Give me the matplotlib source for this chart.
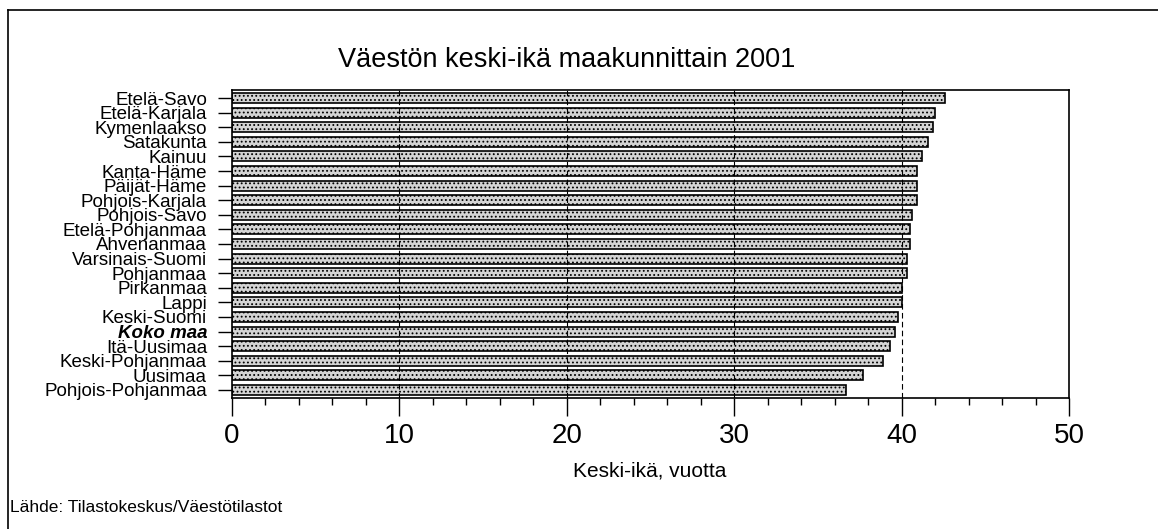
import matplotlib
matplotlib.use("Agg")
import matplotlib.pyplot as plt
from matplotlib.lines import Line2D
from matplotlib.ticker import MultipleLocator

plt.rcParams['font.family'] = ['Liberation Sans', 'DejaVu Sans']
plt.rcParams['hatch.color'] = '#8c8c8c'
plt.rcParams['hatch.linewidth'] = 0.8

maakunnat = ["Etelä-Savo", "Etelä-Karjala", "Kymenlaakso", "Satakunta", "Kainuu",
             "Kanta-Häme", "Päijät-Häme", "Pohjois-Karjala", "Pohjois-Savo",
             "Etelä-Pohjanmaa", "Ahvenanmaa", "Varsinais-Suomi", "Pohjanmaa",
             "Pirkanmaa", "Lappi", "Keski-Suomi", "Koko maa", "Itä-Uusimaa",
             "Keski-Pohjanmaa", "Uusimaa", "Pohjois-Pohjanmaa"]
keski_ika = [42.6, 42.0, 41.9, 41.6, 41.2, 40.9, 40.9, 40.9, 40.6, 40.5, 40.5,
             40.3, 40.3, 40.0, 40.0, 39.8, 39.6, 39.3, 38.9, 37.7, 36.7]
x_ticks = [0, 10, 20, 30, 40, 50]

fig = plt.figure(figsize=(11.58, 5.29), dpi=100)
ax = fig.add_axes([232 / 1158, 1 - 398 / 529, (1069 - 232) / 1158, (398 - 90) / 529])

y = list(range(len(maakunnat)))
ax.barh(y, keski_ika, height=0.68, color='#d4d4d4', edgecolor='black',
        linewidth=1.2, hatch='....', zorder=2)

for v in x_ticks[1:-1]:
    ax.axvline(v, color='black', linewidth=0.8, linestyle=(0, (5, 3)), zorder=3)

ax.set_xlim(0, 50)
ax.set_ylim(len(maakunnat) - 0.45, -0.55)
ax.set_yticks(y)
ax.set_yticklabels(maakunnat, fontsize=13.5)
for lbl in ax.get_yticklabels():
    if lbl.get_text() == "Koko maa":
        lbl.set_fontweight('bold')
        lbl.set_fontstyle('italic')
ax.set_xticks(x_ticks)
ax.xaxis.set_minor_locator(MultipleLocator(2))
ax.tick_params(axis='x', which='major', length=13, width=1, labelsize=20, pad=5)
ax.tick_params(axis='x', which='minor', length=5, width=1)
ax.tick_params(axis='y', length=10, width=1, pad=8)
for s in ax.spines.values():
    s.set_linewidth(1.2)

fig.text(567 / 1158, 1 - 60 / 529, "Väestön keski-ikä maakunnittain 2001",
         ha='center', va='center', fontsize=19.5)
fig.text(650 / 1158, 1 - 471 / 529, "Keski-ikä, vuotta", ha='center', va='center',
         fontsize=15)
fig.text(10 / 1158, 1 - 508 / 529, "Lähde: Tilastokeskus/Väestötilastot",
         ha='left', va='center', fontsize=12.5)

# kehys kuvan ympärillä
fig.add_artist(Line2D([8 / 1158, 1], [1 - 10 / 529, 1 - 10 / 529],
                      transform=fig.transFigure, color='black', linewidth=1.2))
fig.add_artist(Line2D([8 / 1158, 8 / 1158], [0, 1 - 10 / 529],
                      transform=fig.transFigure, color='black', linewidth=1.2))

fig.savefig("out.png", dpi=100)
